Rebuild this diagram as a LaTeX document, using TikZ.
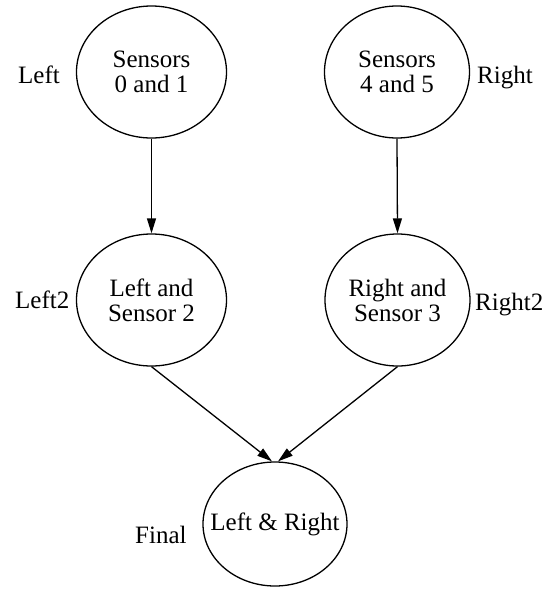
\documentclass[tikz,border=0pt]{standalone}
\usepackage{fontspec}
\setmainfont{Liberation Serif}
\usetikzlibrary{shapes.geometric,arrows.meta}
\begin{document}
\begin{tikzpicture}[x=1pt,y=-1pt,
  state/.style={draw,ellipse,line width=1.3pt,minimum width=150pt,minimum height=132pt,inner sep=0pt,align=center,font=\fontsize{25}{25}\selectfont},
  txt/.style={font=\fontsize{25}{25}\selectfont,inner sep=0pt,align=center},
  lab/.style={font=\fontsize{25}{25}\selectfont,inner sep=0pt,anchor=base west},
  edge/.style={line width=1.3pt,-{Triangle[length=15pt,width=9pt]}}]
\useasboundingbox (0,0) rectangle (547,590);
\node[state] (s01) at (151.5,72) {Sensors\\0 and 1};
\node[state,minimum width=145pt] (s45) at (397,72) {Sensors\\4 and 5};
\node[state] (l2) at (151.5,300) {Left and\\Sensor 2};
\node[state,minimum width=145pt] (r2) at (397.5,300) {Right and\\Sensor 3};
\node[state,minimum width=144pt,minimum height=124pt] (fin) at (275,524) {};
\node[txt] (fintxt) at (fin.center) {Left \& Right};
\node[lab] (tl) at (18,83) {Left};
\node[lab] (tr) at (477,83) {Right};
\node[lab] (ml) at (15,308) {Left2};
\node[lab] (mr) at (475,310) {Right2};
\node[lab] (bl) at (135,543) {Final};
\draw[edge] (s01.south) -- (l2.north);
\draw[edge] (s45.south) -- (r2.north);
\draw[edge] (l2.south) -- ([xshift=-3pt]fin.north);
\draw[edge] (r2.south) -- ([xshift=3pt]fin.north);
\end{tikzpicture}
\end{document}
